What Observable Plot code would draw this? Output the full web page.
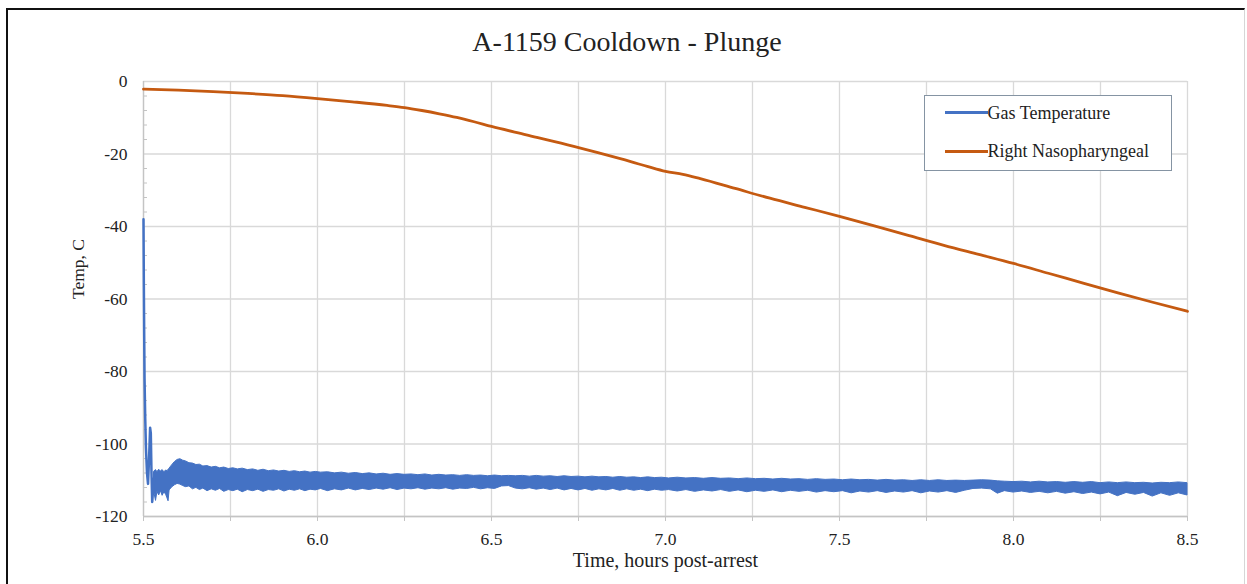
<!DOCTYPE html>
<html>
<head>
<meta charset="utf-8">
<script src="https://cdn.jsdelivr.net/npm/d3@7"></script>
<script src="https://cdn.jsdelivr.net/npm/@observablehq/plot@0.6"></script>
<style>
  html, body { margin: 0; padding: 0; background: #fff; }
  body { width: 1247px; height: 584px; overflow: hidden; position: relative;
         font-family: "Liberation Serif", "Times New Roman", serif; color: #222; }
  #frame { position: absolute; left: 6px; top: 8px; width: 1239px; height: 620px; box-sizing: border-box;
           border-left: 2px solid #111; border-top: 2px solid #111; border-right: 1.5px solid #d6d6d6; }
  #title { position: absolute; left: 7px; width: 1240px; top: 25px; line-height: 34px; text-align: center;
           font-family: "Liberation Serif", "Times New Roman", serif; font-size: 28px; color: #222; }
  #chart { position: absolute; left: 0; top: 62px; }
  #legend { position: absolute; left: 924px; top: 95px; width: 248px; height: 76px; box-sizing: border-box;
            border: 1.5px solid #8594a3; background: #fff; font-size: 18px;
            font-family: "Liberation Serif", "Times New Roman", serif; }
  .sw { position: absolute; left: 19.5px; width: 43px; height: 3px; }
  .lt { position: absolute; left: 62.5px; line-height: 20px; white-space: nowrap; color: #222; }
  #chart svg text { font-family: "Liberation Serif", "Times New Roman", serif; }
</style>
</head>
<body>
<div id="frame"></div>
<div id="title">A-1159 Cooldown - Plunge</div>
<div id="chart"></div>
<div id="legend"></div>
<script>
// ---- data ----
const seriesNames = ["Gas Temperature", "Right Nasopharyngeal"];
const seriesColors = ["#4472C4", "#C55A11"];

const xLabelTicks = [5.5, 6.0, 6.5, 7.0, 7.5, 8.0, 8.5];
const xGridTicks = [5.5, 5.75, 6.0, 6.25, 6.5, 6.75, 7.0, 7.25, 7.5, 7.75, 8.0, 8.25, 8.5];
const yTicks = [0, -20, -40, -60, -80, -100, -120];
const yMinorTicks = [-4, -8, -12, -16, -24, -28, -32, -36, -44, -48, -52, -56, -64, -68, -72, -76,
                     -84, -88, -92, -96, -104, -108, -112, -116];

// Right Nasopharyngeal
const nasoTime = [5.5, 5.6, 5.7, 5.8, 5.9, 6.0, 6.1, 6.2, 6.25, 6.3, 6.35, 6.4, 6.45, 6.5, 6.6, 6.7, 6.8,
                  6.9, 6.95, 7.0, 7.05, 7.1, 7.2, 7.3, 7.4, 7.5, 7.6, 7.7, 7.8, 7.9, 8.0, 8.1, 8.2, 8.3,
                  8.4, 8.5];
const nasoTemp = [-2.1, -2.4, -2.8, -3.3, -3.9, -4.7, -5.6, -6.6, -7.2, -8.0, -8.9, -9.9, -11.1, -12.4,
                  -14.7, -17.0, -19.5, -22.1, -23.5, -24.8, -25.6, -26.8, -29.5, -32.2, -34.7, -37.2,
                  -39.8, -42.5, -45.2, -47.7, -50.2, -52.9, -55.6, -58.3, -60.9, -63.4];

// Gas temperature: initial plunge transient
const gasStartTime = [5.500, 5.501, 5.502, 5.503, 5.505, 5.507, 5.510, 5.513, 5.516, 5.519, 5.521,
                      5.523, 5.525, 5.528, 5.531];
const gasStartTemp = [-38, -56, -70, -82, -93, -101, -108, -111, -104, -95.5, -97, -108, -116, -112, -109];

// Gas temperature: oscillation band afterwards [hours, upper, lower]
const gasBand = [
  [5.531, -107.6, -113.4], [5.536, -107.2, -115.7], [5.540, -107.8, -113.2], [5.545, -107.1, -114.2],
  [5.550, -107.6, -113.0], [5.555, -107.2, -114.3], [5.560, -107.8, -113.3], [5.565, -107.3, -114.0],
  [5.569, -107.5, -115.0], [5.572, -107.1, -115.8], [5.575, -106.8, -112.8], [5.582, -105.9, -112.0],
  [5.590, -105.0, -111.4], [5.598, -104.4, -111.0], [5.606, -104.2, -111.2], [5.614, -104.6, -111.6],
  [5.622, -104.8, -111.9], [5.632, -105.3, -111.7], [5.642, -105.4, -112.5], [5.652, -105.8, -112.1],
  [5.662, -105.7, -112.7], [5.672, -106.2, -112.3], [5.684, -106.1, -113.0], [5.696, -106.5, -112.5],
  [5.708, -106.3, -112.9], [5.720, -106.7, -112.4], [5.732, -106.5, -113.2], [5.745, -106.9, -112.7],
  [5.758, -106.7, -113.0], [5.771, -107.0, -112.6], [5.785, -106.8, -113.3], [5.800, -107.2, -112.7],
  [5.815, -107.0, -113.0], [5.830, -107.4, -112.6], [5.845, -107.1, -113.2], [5.860, -107.5, -112.7],
  [5.875, -107.3, -112.9], [5.890, -107.6, -112.5], [5.905, -107.4, -113.1], [5.920, -107.7, -112.6],
  [5.935, -107.5, -112.9], [5.950, -107.8, -112.5], [5.965, -107.6, -113.0], [5.980, -107.9, -112.6],
  [5.995, -107.7, -112.8], [6.010, -107.9, -112.4], [6.030, -107.8, -113.0], [6.050, -108.1, -112.5],
  [6.070, -107.9, -112.8], [6.090, -108.2, -112.3], [6.110, -108.0, -112.8], [6.130, -108.3, -112.4],
  [6.150, -108.1, -112.7], [6.170, -108.4, -112.3], [6.190, -108.2, -112.6], [6.210, -108.5, -112.2],
  [6.230, -108.3, -112.7], [6.250, -108.5, -112.3], [6.270, -108.4, -112.5], [6.290, -108.6, -112.2],
  [6.310, -108.4, -112.6], [6.330, -108.7, -112.3], [6.350, -108.5, -112.5], [6.370, -108.7, -112.2],
  [6.390, -108.6, -112.6], [6.410, -108.8, -112.3], [6.430, -108.6, -112.4], [6.450, -108.8, -112.1],
  [6.470, -108.7, -112.5], [6.490, -108.9, -112.2], [6.510, -108.7, -112.4], [6.530, -108.9, -111.7],
  [6.550, -108.8, -111.6], [6.570, -108.9, -112.3], [6.590, -108.8, -112.5], [6.610, -109.0, -112.2],
  [6.630, -108.8, -112.6], [6.650, -109.0, -112.3], [6.670, -108.9, -112.7], [6.690, -109.1, -112.3],
  [6.710, -108.9, -112.8], [6.730, -109.1, -112.4], [6.750, -109.0, -112.8], [6.770, -109.2, -112.4],
  [6.790, -109.0, -112.9], [6.810, -109.2, -112.5], [6.830, -109.1, -112.8], [6.850, -109.3, -112.4],
  [6.870, -109.1, -112.9], [6.890, -109.3, -112.5], [6.910, -109.2, -112.9], [6.930, -109.4, -112.6],
  [6.950, -109.2, -113.0], [6.970, -109.4, -112.6], [6.990, -109.3, -112.9], [7.010, -109.5, -112.7],
  [7.035, -109.3, -113.1], [7.060, -109.5, -112.7], [7.085, -109.4, -113.2], [7.110, -109.6, -112.8],
  [7.135, -109.4, -113.1], [7.160, -109.6, -112.7], [7.185, -109.5, -113.2], [7.210, -109.7, -112.8],
  [7.235, -109.5, -113.3], [7.260, -109.7, -112.9], [7.285, -109.6, -113.2], [7.310, -109.8, -112.8],
  [7.335, -109.6, -113.3], [7.360, -109.8, -112.9], [7.385, -109.7, -113.2], [7.410, -109.9, -112.9],
  [7.435, -109.7, -113.4], [7.460, -109.9, -113.0], [7.485, -109.8, -113.3], [7.510, -110.0, -113.0],
  [7.535, -109.8, -113.6], [7.560, -110.0, -113.1], [7.585, -109.9, -113.4], [7.610, -110.1, -113.0],
  [7.635, -109.9, -113.5], [7.660, -110.1, -113.1], [7.685, -110.0, -113.4], [7.710, -110.2, -113.0],
  [7.735, -110.0, -113.6], [7.760, -110.2, -113.1], [7.785, -110.0, -113.4], [7.810, -110.2, -113.0],
  [7.835, -110.1, -113.5], [7.860, -110.2, -112.9], [7.885, -110.1, -112.4], [7.910, -110.0, -112.3],
  [7.935, -110.1, -112.5], [7.955, -110.3, -113.7], [7.975, -110.4, -113.0], [8.000, -110.5, -113.4],
  [8.025, -110.4, -113.1], [8.050, -110.6, -113.5], [8.075, -110.4, -113.2], [8.100, -110.6, -113.6],
  [8.125, -110.5, -113.2], [8.150, -110.7, -113.7], [8.175, -110.5, -113.3], [8.200, -110.7, -113.8],
  [8.225, -110.5, -113.4], [8.250, -110.8, -113.9], [8.275, -110.6, -113.4], [8.300, -110.8, -114.4],
  [8.325, -110.6, -113.5], [8.350, -110.8, -114.0], [8.375, -110.7, -113.5], [8.400, -110.9, -114.5],
  [8.425, -110.7, -113.6], [8.450, -110.8, -114.3], [8.475, -110.6, -113.6], [8.500, -110.8, -114.2]
];

const xTitle = "Time, hours post-arrest";
const yTitle = "Temp, C";

// ---- chart ----
const naso = nasoTime.map((t, i) => ({t, v: nasoTemp[i]}));
const gasStart = gasStartTime.map((t, i) => ({t, v: gasStartTemp[i]}));
const serif = '"Liberation Serif", "Times New Roman", serif';
const gridColor = "#d9d9d9";

const chart = Plot.plot({
  width: 1247,
  height: 522,
  marginTop: 19,
  marginBottom: 68,
  marginLeft: 143,
  marginRight: 60,
  x: {domain: [5.5, 8.5]},
  y: {domain: [-120, 0]},
  style: {fontFamily: serif, background: "transparent", color: "#222", overflow: "visible"},
  marks: [
    Plot.ruleX(xGridTicks, {stroke: gridColor, strokeWidth: 1.3}),
    Plot.ruleY(yTicks, {stroke: gridColor, strokeWidth: 1.3}),
    Plot.tickY(yMinorTicks, {y: d => d, stroke: "#c4c4c4", strokeWidth: 1, insetRight: 1040}),
    Plot.axisX({ticks: xGridTicks, tickSize: 5, tickFormat: () => "", stroke: "#c4c4c4", label: null}),
    Plot.axisX({ticks: xLabelTicks, tickSize: 0, tickPadding: 16, tickFormat: d => d.toFixed(1),
                fontSize: 17.5, fontFamily: serif, label: null}),
    Plot.axisY({ticks: yTicks, tickSize: 0, tickPadding: 16, tickFormat: d => String(d),
                fontSize: 17.5, fontFamily: serif, label: null}),
    Plot.ruleX([5.5], {stroke: "#c4c4c4", strokeWidth: 1.3}),
    Plot.ruleY([-120], {stroke: "#c4c4c4", strokeWidth: 1.3}),
    Plot.areaY(gasBand, {x: d => d[0], y1: d => d[2], y2: d => d[1], fill: seriesColors[0],
                         stroke: seriesColors[0], strokeWidth: 1}),
    Plot.line(gasStart, {x: "t", y: "v", stroke: seriesColors[0], strokeWidth: 2.5}),
    Plot.line(naso, {x: "t", y: "v", stroke: seriesColors[1], strokeWidth: 2.8, curve: "monotone-x"}),
    Plot.text([xTitle], {frameAnchor: "bottom", dy: 50, fontSize: 20, fontFamily: serif, fill: "#222"}),
    Plot.text([yTitle], {frameAnchor: "left", dx: -65, rotate: -90, fontSize: 17.5, fontFamily: serif, fill: "#222"})
  ]
});
document.getElementById("chart").appendChild(chart);

// ---- legend ----
const legend = document.getElementById("legend");
const rowTops = [15.3, 53.5];
seriesNames.forEach((name, i) => {
  const sw = document.createElement("div");
  sw.className = "sw";
  sw.style.top = rowTops[i] + "px";
  sw.style.background = seriesColors[i];
  legend.appendChild(sw);
  const lt = document.createElement("div");
  lt.className = "lt";
  lt.style.top = (rowTops[i] - 8.5) + "px";
  lt.textContent = name;
  legend.appendChild(lt);
});
</script>
</body>
</html>
